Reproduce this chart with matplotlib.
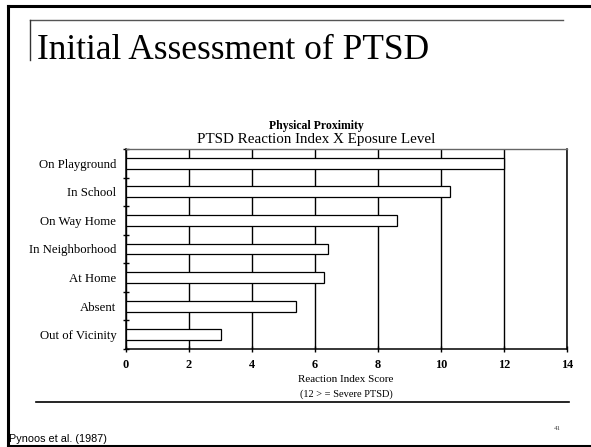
import matplotlib.pyplot as plt
from matplotlib.lines import Line2D
import numpy as np

categories = ["On Playground", "In School", "On Way Home", "In Neighborhood",
              "At Home", "Absent", "Out of Vicinity"]
scores = [12.0, 10.3, 8.6, 6.4, 6.3, 5.4, 3.0]
x_ticks = [0, 2, 4, 6, 8, 10, 12, 14]

W, H = 591, 447
serif = "Liberation Serif"


def fx(px):
    return px / W


def fy(py):
    return 1 - py / H


def main():
    fig = plt.figure(figsize=(W / 100, H / 100), dpi=100)

    # slide frame
    fig.add_artist(Line2D([fx(8), fx(8)], [fy(6), fy(446)], color="black", lw=2.2))
    fig.add_artist(Line2D([fx(8), 1], [fy(6), fy(6)], color="black", lw=2.2))
    fig.add_artist(Line2D([fx(8), 1], [fy(445.5), fy(445.5)], color="black", lw=2.2))
    # title decoration
    fig.add_artist(Line2D([fx(30), fx(563)], [fy(20), fy(20)], color="#555555", lw=1))
    fig.add_artist(Line2D([fx(30), fx(30)], [fy(20), fy(60)], color="#333333", lw=1))
    fig.add_artist(Line2D([fx(36), fx(569)], [fy(402), fy(402)], color="black", lw=1.2))

    fig.text(fx(37), fy(59), "Initial Assessment of PTSD", family=serif,
             fontsize=25.5, va="baseline", ha="left")
    fig.text(fx(316), fy(126), "Physical Proximity", family=serif,
             fontsize=8.5, fontweight="bold", ha="center", va="center")
    fig.text(fx(316), fy(139), "PTSD Reaction Index X Eposure Level", family=serif,
             fontsize=10.8, ha="center", va="center")
    fig.text(fx(346), fy(379), "Reaction Index Score", family=serif,
             fontsize=8, ha="center", va="center")
    fig.text(fx(346), fy(394), "(12 > = Severe PTSD)", family=serif,
             fontsize=7.5, ha="center", va="center")
    fig.text(fx(9), fy(442), "Pynoos et al. (1987)", family="Liberation Sans",
             fontsize=7.8, ha="left", va="baseline")
    fig.text(fx(557), fy(428), "41", family=serif, fontsize=5,
             ha="center", va="center", color="#444444")

    ax = fig.add_axes([fx(126), fy(349), fx(567) - fx(126), fy(149) - fy(349)])
    ypos = np.arange(len(categories))
    ax.barh(ypos, scores, height=0.38, color="white", edgecolor="black",
            linewidth=0.9, zorder=3)
    ax.set_xlim(0, 14)
    ax.set_ylim(len(categories) - 0.5, -0.5)

    ax.set_xticks(x_ticks)
    ax.set_xticklabels([str(t) for t in x_ticks], family=serif,
                       fontweight="bold", fontsize=8.8)
    ax.tick_params(axis="x", direction="inout", length=5, width=1, pad=5)
    ax.xaxis.grid(True, color="black", lw=1, zorder=0)

    ax.set_yticks(ypos)
    ax.set_yticklabels(categories, family=serif, fontsize=9.2)
    ax.set_yticks(np.arange(len(categories) + 1) - 0.5, minor=True)
    ax.tick_params(axis="y", which="major", length=0, pad=7)
    ax.tick_params(axis="y", which="minor", direction="inout", length=5, width=1)

    for side in ["left", "bottom", "right"]:
        ax.spines[side].set_color("black")
        ax.spines[side].set_linewidth(1.1)
    ax.spines["top"].set_color("#666666")
    ax.spines["top"].set_linewidth(1)

    fig.savefig("out.png", dpi=100)


if __name__ == "__main__": main()
